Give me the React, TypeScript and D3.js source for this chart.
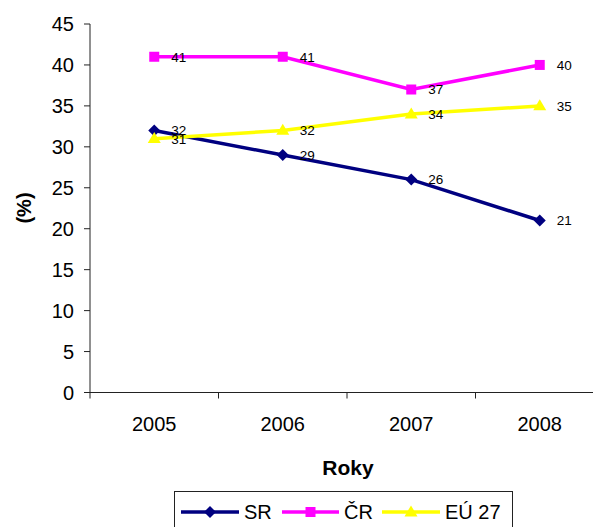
import React from "react";
import * as d3 from "d3";

const years = ["2005", "2006", "2007", "2008"];
const srValues = [32, 29, 26, 21];
const crValues = [41, 41, 37, 40];
const euValues = [31, 32, 34, 35];
const yTicks = [0, 5, 10, 15, 20, 25, 30, 35, 40, 45];
const seriesNames = ["SR", "ČR", "EÚ 27"];

const W = 593;
const H = 527;
const FONT = "Liberation Sans, Arial, sans-serif";

type Marker = "diamond" | "square" | "triangle";

const series: { name: string; values: number[]; color: string; marker: Marker }[] = [
  { name: seriesNames[0], values: srValues, color: "#000080", marker: "diamond" },
  { name: seriesNames[1], values: crValues, color: "#FF00FF", marker: "square" },
  { name: seriesNames[2], values: euValues, color: "#FFFF00", marker: "triangle" },
];

function MarkerShape({ type, x, y, color }: { type: Marker; x: number; y: number; color: string }) {
  if (type === "diamond") {
    const r = 6;
    return <path d={`M${x},${y - r}L${x + r},${y}L${x},${y + r}L${x - r},${y}Z`} fill={color} />;
  }
  if (type === "square") {
    const s = 10;
    return <rect x={x - s / 2} y={y - s / 2} width={s} height={s} fill={color} />;
  }
  const w = 13;
  const h = 11;
  return <path d={`M${x},${y - h * 0.6}L${x + w / 2},${y + h * 0.4}L${x - w / 2},${y + h * 0.4}Z`} fill={color} />;
}

export default function App() {
  const x = d3.scaleBand<string>().domain(years).range([90, 604]);
  const y = d3.scaleLinear().domain([0, 45]).range([392.5, 24]);
  const cx = (d: string) => (x(d) as number) + x.bandwidth() / 2;
  const line = d3
    .line<number>()
    .x((_, i) => cx(years[i]))
    .y((v) => y(v));

  const bandEdges = years.map((d) => x(d) as number).concat([(x(years[3]) as number) + x.bandwidth()]);

  const legendItems = [
    { x1: 181, x2: 239, tx: 244 },
    { x1: 282, x2: 339, tx: 344 },
    { x1: 382, x2: 440, tx: 445 },
  ];
  const legendY = 512;

  return (
    <svg
      width={W}
      height={H}
      style={{ position: "absolute", left: 0, top: 0, background: "#fff" }}
      fontFamily={FONT}
    >
      <rect x={0} y={0} width={W} height={H} fill="#fff" />
      {/* y axis */}
      <line x1={90} x2={90} y1={y(45)} y2={y(0)} stroke="#222" strokeWidth={1} />
      {yTicks.map((t) => (
        <g key={t}>
          <line x1={84} x2={90} y1={y(t)} y2={y(t)} stroke="#222" strokeWidth={1} />
          <text x={74} y={y(t)} dy="0.36em" textAnchor="end" fontSize={20} fill="#000">
            {t}
          </text>
        </g>
      ))}
      {/* x axis */}
      <line x1={90} x2={W} y1={y(0)} y2={y(0)} stroke="#222" strokeWidth={1} />
      {bandEdges.map((e, i) => (
        <line key={i} x1={e} x2={e} y1={y(0)} y2={y(0) + 6} stroke="#222" strokeWidth={1} />
      ))}
      {years.map((d) => (
        <text key={d} x={cx(d)} y={431} textAnchor="middle" fontSize={20} fill="#000">
          {d}
        </text>
      ))}
      {/* axis titles */}
      <text x={348} y={475} textAnchor="middle" fontSize={21} fontWeight="bold" fill="#000">
        Roky
      </text>
      <text
        transform={`translate(31,208) rotate(-90)`}
        textAnchor="middle"
        fontSize={20}
        fontWeight="bold"
        fill="#000"
      >
        (%)
      </text>
      {/* series */}
      {series.map((s) => (
        <g key={s.name}>
          <path d={line(s.values) || ""} fill="none" stroke={s.color} strokeWidth={3.5} />
          {s.values.map((v, i) => (
            <MarkerShape key={i} type={s.marker} x={cx(years[i])} y={y(v)} color={s.color} />
          ))}
        </g>
      ))}
      {/* data labels */}
      {series.map((s) =>
        s.values.map((v, i) => (
          <text
            key={s.name + i}
            x={cx(years[i]) + 17}
            y={y(v)}
            dy="0.36em"
            fontSize={13.5}
            fill="#000"
          >
            {v}
          </text>
        ))
      )}
      {/* legend */}
      <rect x={174.5} y={491.5} width={338} height={60} fill="#fff" stroke="#222" strokeWidth={1} />
      {series.map((s, i) => {
        const it = legendItems[i];
        return (
          <g key={s.name}>
            <line x1={it.x1} x2={it.x2} y1={legendY} y2={legendY} stroke={s.color} strokeWidth={3.5} />
            <MarkerShape type={s.marker} x={(it.x1 + it.x2) / 2} y={legendY} color={s.color} />
            <text x={it.tx} y={legendY} dy="0.36em" fontSize={20} fill="#000">
              {s.name}
            </text>
          </g>
        );
      })}
    </svg>
  );
}
